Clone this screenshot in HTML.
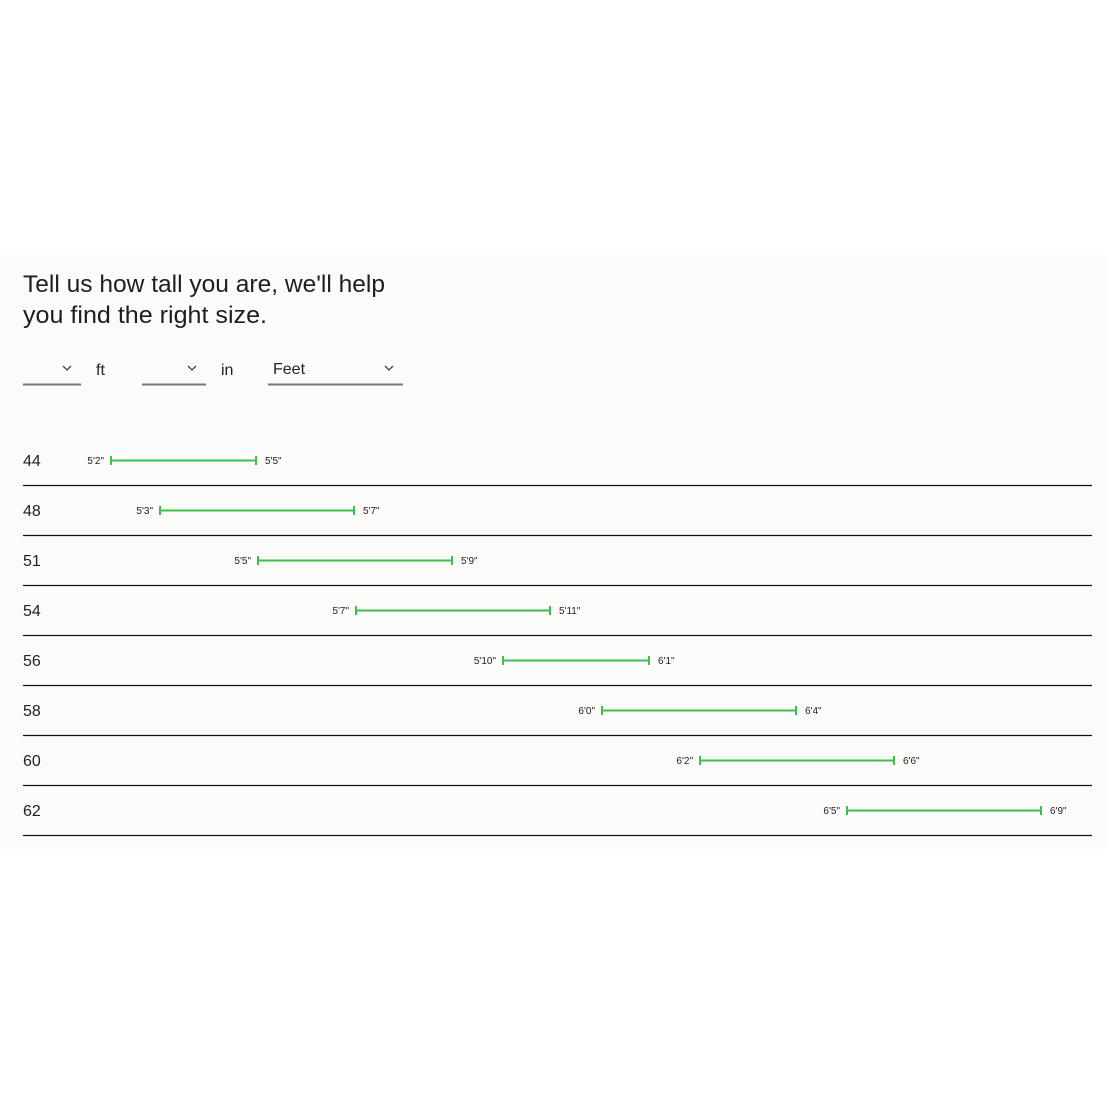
<!DOCTYPE html>
<html><head><meta charset="utf-8"><style>
html,body{margin:0;padding:0;background:#fff;}
svg{display:block;}
text{font-family:"Liberation Sans",Arial,sans-serif;}
</style></head><body>
<svg width="1109" height="1109" viewBox="0 0 1109 1109" xmlns="http://www.w3.org/2000/svg">
<rect x="0" y="0" width="1109" height="1109" fill="#ffffff"/>
<rect x="0" y="255" width="1107" height="594" fill="#fbfbfa"/>
<g fill="#1e1e1e" font-size="24">
<text x="23" y="292" textLength="362" lengthAdjust="spacingAndGlyphs">Tell us how tall you are, we'll help</text>
<text x="23" y="323" textLength="244" lengthAdjust="spacingAndGlyphs">you find the right size.</text>
</g>
<g fill="#222" font-size="16">
<text x="96" y="375">ft</text>
<text x="221" y="375">in</text>
<text x="273" y="374">Feet</text>
</g>
<g stroke="#777" stroke-width="2">
<line x1="23" y1="384.5" x2="81" y2="384.5"/>
<line x1="142" y1="384.5" x2="206" y2="384.5"/>
<line x1="268" y1="384.5" x2="403" y2="384.5"/>
</g>
<g stroke="#444" stroke-width="1.3" fill="none">
<polyline points="63,366 67,370 71,366"/>
<polyline points="188,366 192,370 196,366"/>
<polyline points="385,366 389,370 393,366"/>
</g>
<g stroke="#111" stroke-width="1.3">
<line x1="23" y1="485.5" x2="1092" y2="485.5"/>
<line x1="23" y1="535.5" x2="1092" y2="535.5"/>
<line x1="23" y1="585.5" x2="1092" y2="585.5"/>
<line x1="23" y1="635.5" x2="1092" y2="635.5"/>
<line x1="23" y1="685.5" x2="1092" y2="685.5"/>
<line x1="23" y1="735.5" x2="1092" y2="735.5"/>
<line x1="23" y1="785.5" x2="1092" y2="785.5"/>
<line x1="23" y1="835.5" x2="1092" y2="835.5"/>
</g>
<g fill="#222" font-size="16">
<text x="23" y="466">44</text>
<text x="23" y="516">48</text>
<text x="23" y="566">51</text>
<text x="23" y="616">54</text>
<text x="23" y="666">56</text>
<text x="23" y="716">58</text>
<text x="23" y="766">60</text>
<text x="23" y="816">62</text>
</g>
<g stroke="#3dbf4e" stroke-width="2">
<path d="M111 460.5H256M111 456V465M256 456V465"/>
<path d="M160 510.5H354M160 506V515M354 506V515"/>
<path d="M258 560.5H452M258 556V565M452 556V565"/>
<path d="M356 610.5H550M356 606V615M550 606V615"/>
<path d="M503 660.5H649M503 656V665M649 656V665"/>
<path d="M602 710.5H796M602 706V715M796 706V715"/>
<path d="M700 760.5H894M700 756V765M894 756V765"/>
<path d="M847 810.5H1041M847 806V815M1041 806V815"/>
</g>
<g fill="#222" font-size="10">
<g text-anchor="end">
<text x="104" y="464">5'2"</text>
<text x="153" y="514">5'3"</text>
<text x="251" y="564">5'5"</text>
<text x="349" y="614">5'7"</text>
<text x="496" y="664">5'10"</text>
<text x="595" y="714">6'0"</text>
<text x="693" y="764">6'2"</text>
<text x="840" y="814">6'5"</text>
</g>
<text x="265" y="464">5'5"</text>
<text x="363" y="514">5'7"</text>
<text x="461" y="564">5'9"</text>
<text x="559" y="614">5'11"</text>
<text x="658" y="664">6'1"</text>
<text x="805" y="714">6'4"</text>
<text x="903" y="764">6'6"</text>
<text x="1050" y="814">6'9"</text>
</g>
</svg>
</body></html>
